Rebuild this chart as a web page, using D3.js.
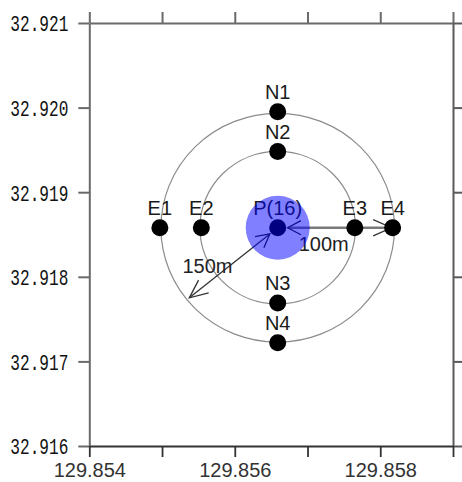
<!DOCTYPE html>
<html>
<head>
<meta charset="utf-8">
<script src="https://cdn.jsdelivr.net/npm/d3@7"></script>
<style>
  html, body { margin: 0; padding: 0; background: #fff; }
  svg { display: block; }
</style>
</head>
<body>
<svg id="chart" width="462" height="482"></svg>
<script>
// Observation stations around the centre point P (longitude / latitude, degrees)
const stationNames = ["P(16)", "N1", "N2", "N3", "N4", "E1", "E2", "E3", "E4"];
const stationLons  = [129.85659, 129.85659, 129.85659, 129.85659, 129.85659, 129.85497, 129.85554, 129.85765, 129.85817];
const stationLats  = [32.91858, 32.91995, 32.91948, 32.91769, 32.91722, 32.91858, 32.91858, 32.91858, 32.91858];

// Distance rings around P, in metres
const ringRadii = [100, 150];

// Distance arrows drawn out of P: reach (m), bearing (deg from north) and caption
const arrowReach   = [150, 150];
const arrowBearing = [90, 231];
const arrowLabels  = ["100m", "150m"];

// Axis ticks
const xTicks = [129.854, 129.855, 129.856, 129.857, 129.858, 129.859];
const xTickLabels = ["129.854", "", "129.856", "", "129.858", ""];
const yTicks = [32.916, 32.917, 32.918, 32.919, 32.920, 32.921];
const yTickLabels = ["32.916", "32.917", "32.918", "32.919", "32.920", "32.921"];

(function draw() {
  const svg = d3.select("#chart");
  const plotLeft = 89.3, plotRight = 453, plotTop = 23, plotBottom = 446;

  const x = d3.scaleLinear().domain([129.854, 129.859]).range([plotLeft, plotRight]);
  const y = d3.scaleLinear().domain([32.916, 32.921]).range([plotBottom, plotTop]);

  // metres per degree at the centre latitude
  const lat0 = stationLats[0], lon0 = stationLons[0];
  const mPerDegLat = 110922;
  const mPerDegLon = 111320 * Math.cos(lat0 * Math.PI / 180);
  const cx = x(lon0), cy = y(lat0);
  const rxOf = m => x(lon0 + m / mPerDegLon) - cx;
  const ryOf = m => cy - y(lat0 + m / mPerDegLat);

  // ---- axes (frame with ticks on all four sides) ----
  function styleAxis(g, color, width) {
    g.select(".domain").attr("stroke", color).attr("stroke-width", width).attr("fill", "none");
    g.selectAll(".tick line").attr("stroke", color).attr("stroke-width", width);
  }

  const gTop = svg.append("g").attr("transform", `translate(0,${plotTop})`)
    .call(d3.axisTop(x).tickValues(xTicks).tickFormat("").tickSize(11).tickSizeOuter(0));
  styleAxis(gTop, "#6a6a6a", 2);

  const gRight = svg.append("g").attr("transform", `translate(${plotRight},0)`)
    .call(d3.axisRight(y).tickValues(yTicks).tickFormat("").tickSize(9).tickSizeOuter(0));
  styleAxis(gRight, "#5a5a5a", 2);

  const gLeft = svg.append("g").attr("transform", `translate(${plotLeft},0)`)
    .call(d3.axisLeft(y).tickValues(yTicks).tickFormat((d, i) => yTickLabels[i]).tickSize(11).tickSizeOuter(0).tickPadding(10));
  styleAxis(gLeft, "#6a6a6a", 2);
  gLeft.selectAll(".tick text")
    .attr("fill", "#111")
    .attr("font-family", "'Liberation Mono', 'DejaVu Sans Mono', monospace")
    .attr("font-size", 22)
    .attr("textLength", 58)
    .attr("lengthAdjust", "spacingAndGlyphs")
    .attr("dy", "0.36em");

  const gBottom = svg.append("g").attr("transform", `translate(0,${plotBottom})`)
    .call(d3.axisBottom(x).tickValues(xTicks).tickFormat((d, i) => xTickLabels[i]).tickSize(11).tickSizeOuter(0).tickPadding(6));
  styleAxis(gBottom, "#333", 1.8);
  gBottom.selectAll(".tick text")
    .attr("fill", "#333")
    .attr("font-family", "'Liberation Sans', Arial, sans-serif")
    .attr("font-size", 20);

  // ---- distance rings ----
  svg.append("g").selectAll("ellipse").data(ringRadii).join("ellipse")
    .attr("cx", cx).attr("cy", cy)
    .attr("rx", d => rxOf(d)).attr("ry", d => ryOf(d))
    .attr("fill", "none").attr("stroke", "#8c8c8c").attr("stroke-width", 1.2);

  // ---- distance arrows ----
  const dotR = 8.5;
  function chevron(g, tx, ty, ux, uy, color, len, angDeg) {
    // open arrowhead whose tip is at (tx,ty), pointing along (ux,uy)
    const ang = angDeg * Math.PI / 180;
    const arms = [ang, -ang].map(a => {
      const c = Math.cos(a), s = Math.sin(a);
      const bx = -(ux * c - uy * s), by = -(ux * s + uy * c);
      return [tx + bx * len, ty + by * len];
    });
    g.append("path")
      .attr("d", `M${arms[0][0]},${arms[0][1]}L${tx},${ty}L${arms[1][0]},${arms[1][1]}`)
      .attr("fill", "none").attr("stroke", color).attr("stroke-width", 1.3);
  }

  const arrowStyles = [{ line: "#7a7a7a", width: 2.6 }, { line: "#333", width: 1.3 }];
  const gArrows = svg.append("g");
  arrowReach.forEach((m, i) => {
    const b = arrowBearing[i] * Math.PI / 180;
    const ex = cx + Math.sin(b) * rxOf(m);
    const ey = cy - Math.cos(b) * ryOf(m);
    const L = Math.hypot(ex - cx, ey - cy);
    const ux = (ex - cx) / L, uy = (ey - cy) / L;
    const sx = cx + ux * (dotR + 1.5), sy = cy + uy * (dotR + 1.5);
    const tx = ex - ux * 3, ty = ey - uy * 3;
    gArrows.append("line")
      .attr("x1", sx).attr("y1", sy).attr("x2", tx).attr("y2", ty)
      .attr("stroke", arrowStyles[i].line).attr("stroke-width", arrowStyles[i].width);
    chevron(gArrows, tx, ty, ux, uy, "#333", 20, 24);
    chevron(gArrows, sx, sy, -ux, -uy, "#222", 15, 28);
  });

  // captions for the arrows
  const captionPos = [{ t: 0.42, dx: -3, dy: 23 }, { t: 0.62, dx: -14, dy: 1 }];
  svg.append("g").selectAll("text").data(arrowLabels).join("text")
    .attr("x", (d, i) => {
      const b = arrowBearing[i] * Math.PI / 180;
      return cx + Math.sin(b) * rxOf(arrowReach[i]) * captionPos[i].t + captionPos[i].dx;
    })
    .attr("y", (d, i) => {
      const b = arrowBearing[i] * Math.PI / 180;
      return cy - Math.cos(b) * ryOf(arrowReach[i]) * captionPos[i].t + captionPos[i].dy;
    })
    .attr("text-anchor", "middle")
    .attr("font-family", "'Liberation Sans', Arial, sans-serif")
    .attr("font-size", 20).attr("fill", "#222")
    .text(d => d);

  // ---- station dots and names ----
  const stations = stationNames.map((n, i) => ({ name: n, lon: stationLons[i], lat: stationLats[i] }));
  svg.append("g").selectAll("text").data(stations).join("text")
    .attr("x", d => x(d.lon)).attr("y", d => y(d.lat) - 13)
    .attr("text-anchor", "middle")
    .attr("font-family", "'Liberation Sans', Arial, sans-serif")
    .attr("font-size", 20).attr("fill", "#1a1a1a")
    .text(d => d.name);

  svg.append("g").selectAll("circle").data(stations).join("circle")
    .attr("cx", d => x(d.lon)).attr("cy", d => y(d.lat))
    .attr("r", dotR).attr("fill", "#000");

  // translucent blue disc marking the centre point
  svg.append("circle")
    .attr("cx", cx).attr("cy", cy).attr("r", 32)
    .attr("fill", "#0000ff").attr("fill-opacity", 0.5);
})();
</script>
</body>
</html>
